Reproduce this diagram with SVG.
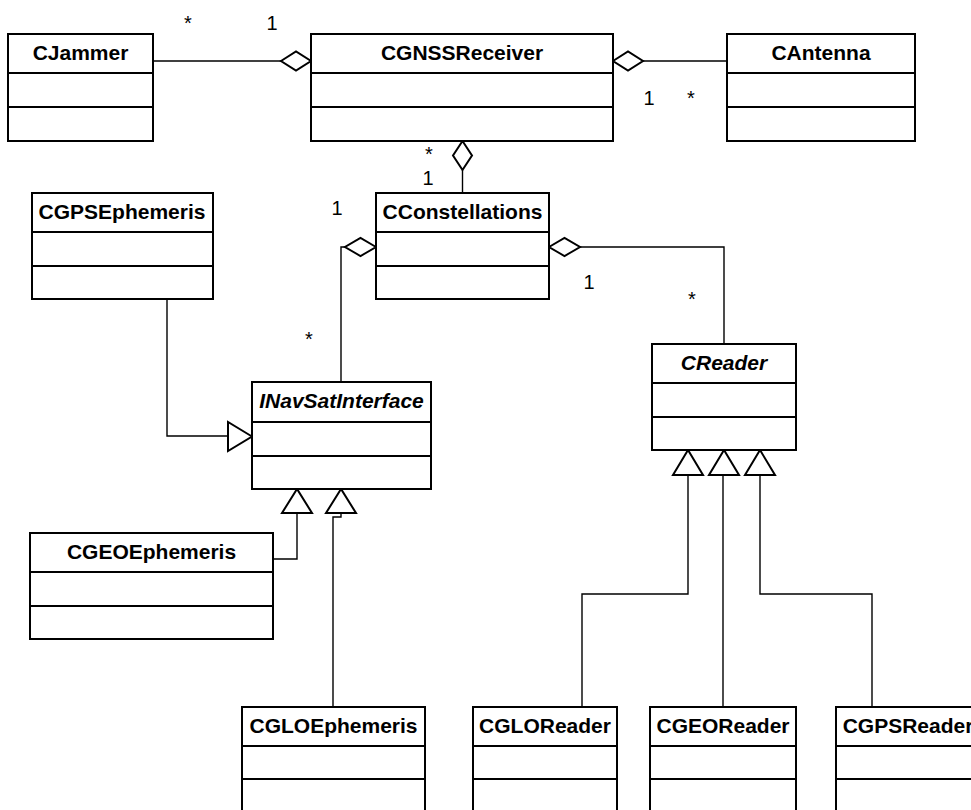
<svg xmlns="http://www.w3.org/2000/svg" width="971" height="810" viewBox="0 0 971 810">
<style>
.box{fill:#fff;stroke:#000;stroke-width:2}
.div{stroke:#000;stroke-width:2}
.t{font-family:"Liberation Sans",Arial,sans-serif;font-size:21px;font-weight:bold;text-anchor:middle;fill:#000}
.i{font-style:italic}
.m{font-family:"Liberation Sans",Arial,sans-serif;font-size:20px;text-anchor:middle;fill:#000}
.c{fill:none;stroke:#000;stroke-width:1.4}
.dia{fill:#fff;stroke:#000;stroke-width:2}
</style>
<rect width="971" height="810" fill="#fff"/>
<g id="connectors">
<polyline class="c" points="153,61 281,61"/>
<polyline class="c" points="643,61 727,61"/>
<polyline class="c" points="462.5,170 462.5,193"/>
<polyline class="c" points="345,247 341,247 341,382"/>
<polyline class="c" points="580,247 724,247 724,344"/>
<polyline class="c" points="167,299 167,436 228,436"/>
<polyline class="c" points="297,513 297,559 273,559"/>
<polyline class="c" points="341,513 341,517 333,517 333,707"/>
<polyline class="c" points="688,475 688,594 582,594 582,707"/>
<polyline class="c" points="723,475 723,707"/>
<polyline class="c" points="760,475 760,594 872,594 872,707"/>
<polygon class="dia" points="281,61 296,51.5 311,61 296,70.5"/>
<polygon class="dia" points="613,61 628,51.5 643,61 628,70.5"/>
<polygon class="dia" points="462.5,141 472,155.5 462.5,170 453,155.5"/>
<polygon class="dia" points="376,247 360.5,238 345,247 360.5,256"/>
<polygon class="dia" points="549,247 564.5,238 580,247 564.5,256"/>
<polygon class="dia" points="252,436.5 228,422 228,451"/>
<polygon class="dia" points="297,489 282,513 312,513"/>
<polygon class="dia" points="341,489 326,513 356,513"/>
<polygon class="dia" points="688,450 673,475 703,475"/>
<polygon class="dia" points="724,450 709,475 739,475"/>
<polygon class="dia" points="760,450 745,475 775,475"/>
<text class="m" x="188" y="30">*</text>
<text class="m" x="272" y="30">1</text>
<text class="m" x="649" y="105">1</text>
<text class="m" x="691" y="105">*</text>
<text class="m" x="429" y="161">*</text>
<text class="m" x="428" y="185">1</text>
<text class="m" x="337" y="215">1</text>
<text class="m" x="309" y="346">*</text>
<text class="m" x="589" y="289">1</text>
<text class="m" x="692" y="306">*</text>
</g>
<g id="CJammer">
<rect class="box" x="8" y="34" width="145" height="107"/>
<line class="div" x1="8" y1="73" x2="153" y2="73"/>
<line class="div" x1="8" y1="107" x2="153" y2="107"/>
<text class="t" x="80.5" y="60">CJammer</text>
</g>
<g id="CGNSSReceiver">
<rect class="box" x="311" y="34" width="302" height="107"/>
<line class="div" x1="311" y1="73" x2="613" y2="73"/>
<line class="div" x1="311" y1="107" x2="613" y2="107"/>
<text class="t" x="462" y="60">CGNSSReceiver</text>
</g>
<g id="CAntenna">
<rect class="box" x="727" y="34" width="188" height="107"/>
<line class="div" x1="727" y1="73" x2="915" y2="73"/>
<line class="div" x1="727" y1="107" x2="915" y2="107"/>
<text class="t" x="821" y="60">CAntenna</text>
</g>
<g id="CGPSEphemeris">
<rect class="box" x="32" y="193" width="181" height="106"/>
<line class="div" x1="32" y1="232" x2="213" y2="232"/>
<line class="div" x1="32" y1="266" x2="213" y2="266"/>
<text class="t" x="122" y="219">CGPSEphemeris</text>
</g>
<g id="CConstellations">
<rect class="box" x="376" y="193" width="173" height="106"/>
<line class="div" x1="376" y1="232" x2="549" y2="232"/>
<line class="div" x1="376" y1="266" x2="549" y2="266"/>
<text class="t" x="462.5" y="219">CConstellations</text>
</g>
<g id="INavSatInterface">
<rect class="box" x="252" y="382" width="179" height="107"/>
<line class="div" x1="252" y1="422" x2="431" y2="422"/>
<line class="div" x1="252" y1="456" x2="431" y2="456"/>
<text class="t i" x="341.5" y="408">INavSatInterface</text>
</g>
<g id="CReader">
<rect class="box" x="652" y="344" width="144" height="106"/>
<line class="div" x1="652" y1="383" x2="796" y2="383"/>
<line class="div" x1="652" y1="417" x2="796" y2="417"/>
<text class="t i" x="724" y="370">CReader</text>
</g>
<g id="CGEOEphemeris">
<rect class="box" x="30" y="533" width="243" height="106"/>
<line class="div" x1="30" y1="572" x2="273" y2="572"/>
<line class="div" x1="30" y1="606" x2="273" y2="606"/>
<text class="t" x="151.5" y="559">CGEOEphemeris</text>
</g>
<g id="CGLOEphemeris">
<rect class="box" x="242" y="707" width="183" height="107"/>
<line class="div" x1="242" y1="746" x2="425" y2="746"/>
<line class="div" x1="242" y1="779" x2="425" y2="779"/>
<text class="t" x="333.5" y="733">CGLOEphemeris</text>
</g>
<g id="CGLOReader">
<rect class="box" x="473" y="707" width="144" height="107"/>
<line class="div" x1="473" y1="746" x2="617" y2="746"/>
<line class="div" x1="473" y1="779" x2="617" y2="779"/>
<text class="t" x="545" y="733">CGLOReader</text>
</g>
<g id="CGEOReader">
<rect class="box" x="650" y="707" width="146" height="107"/>
<line class="div" x1="650" y1="746" x2="796" y2="746"/>
<line class="div" x1="650" y1="779" x2="796" y2="779"/>
<text class="t" x="723" y="733">CGEOReader</text>
</g>
<g id="CGPSReader">
<rect class="box" x="836" y="707" width="144" height="107"/>
<line class="div" x1="836" y1="746" x2="980" y2="746"/>
<line class="div" x1="836" y1="779" x2="980" y2="779"/>
<text class="t" x="908" y="733">CGPSReader</text>
</g>
</svg>
